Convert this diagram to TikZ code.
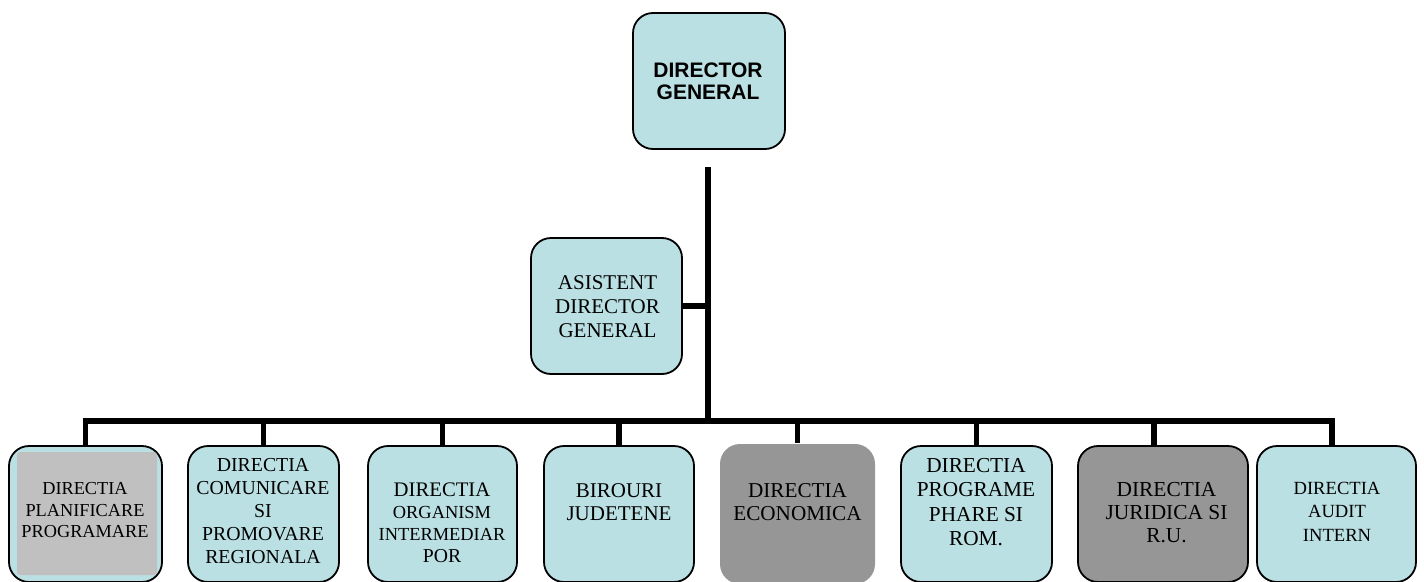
\documentclass[tikz,border=0pt]{standalone}
\usepackage{fontspec}
\setmainfont{Liberation Serif}
\newfontfamily\arialfont{Liberation Sans}
\definecolor{boxblue}{RGB}{187,224,227}
\definecolor{darkbox}{RGB}{150,150,150}
\definecolor{innergray}{RGB}{192,192,192}
\newcommand{\fs}[2]{\fontsize{#1}{#2}\selectfont}
\begin{document}
\begin{tikzpicture}[x=1pt,y=-1pt,
  orgbox/.style={draw=black, line width=1.8pt, fill=boxblue, rounded corners=20pt, inner sep=0pt},
  conn/.style={line width=5.5pt, line join=miter},
  lbl/.style={inner sep=0pt, align=center, anchor=north, text=black}]
\useasboundingbox (0,0) rectangle (1424,581);
% boxes
\node[orgbox, minimum width=152pt, minimum height=136pt] (dg) at (709,81) {};
\node[orgbox, minimum width=151pt, minimum height=136pt] (as) at (606.5,306) {};
\node[orgbox, minimum width=153pt, minimum height=136pt] (b1) at (85.5,514) {};
\node[fill=innergray, inner sep=0pt, rounded corners=3pt, minimum width=140pt, minimum height=123pt] (b1in) at (87,513.5) {};
\node[orgbox, minimum width=151pt, minimum height=136pt] (b2) at (263.5,514) {};
\node[orgbox, minimum width=149pt, minimum height=136pt] (b3) at (442.5,514) {};
\node[orgbox, minimum width=150pt, minimum height=136pt] (b4) at (619,514) {};
\node[orgbox, draw=none, fill=darkbox, minimum width=155pt, minimum height=140pt] (b5) at (797.5,514) {};
\node[orgbox, minimum width=151pt, minimum height=136pt] (b6) at (976.5,514) {};
\node[orgbox, fill=darkbox, minimum width=170pt, minimum height=136pt] (b7) at (1163,514) {};
\node[orgbox, minimum width=159pt, minimum height=136pt] (b8) at (1336.5,514) {};
% connectors
\coordinate (top) at (708,167);
\coordinate (busM) at (708,421);
\coordinate (jA) at (708,306);
\draw[conn] (top) -- (busM);
\draw[conn] (as.east) -- (jA);
\draw[conn] (b1.north) -- (b1.north |- busM) -- ([xshift=-4.5pt]b8.north |- busM) -- ([xshift=-4.5pt]b8.north);
\draw[conn] (b2.north) -- (b2.north |- busM);
\draw[conn] (b3.north) -- (b3.north |- busM);
\draw[conn] (b4.north) -- (b4.north |- busM);
\draw[conn] (b5.north) -- (b5.north |- busM);
\draw[conn] (b6.north) -- (b6.north |- busM);
\draw[conn] ([xshift=-9pt]b7.north) -- ([xshift=-9pt]b7.north |- busM);
% labels
\node[lbl, font=\arialfont\bfseries\fs{21}{21.7}] (tdg) at (708,63) {DIRECTOR\\GENERAL};
\node[lbl, font=\fs{21}{24}] (tas) at (607.5,275) {ASISTENT\\DIRECTOR\\GENERAL};
\node[lbl, font=\fs{18.3}{21.7}] (t1) at (85,482) {DIRECTIA\\PLANIFICARE\\PROGRAMARE};
\node[lbl, font=\fs{19.8}{23}] (t2) at (263,458) {DIRECTIA\\COMUNICARE\\SI\\PROMOVARE\\REGIONALA};
\node[lbl, font=\fs{18.4}{21.7}] (t3) at (442,483) {{\fs{20.7}{21.7}DIRECTIA}\\ORGANISM\\INTERMEDIAR\\{\fs{19.7}{23.3}POR}};
\node[lbl, font=\fs{21}{23.3}] (t4) at (619,483) {BIROURI\\JUDETENE};
\node[lbl, font=\fs{21.2}{23.3}] (t5) at (797.5,483) {DIRECTIA\\ECONOMICA};
\node[lbl, font=\fs{21.3}{24.4}] (t6) at (976,458) {DIRECTIA\\PROGRAME\\PHARE SI\\ROM.};
\node[lbl, font=\fs{21.4}{23.3}] (t7) at (1166.5,482) {DIRECTIA\\JURIDICA SI\\R.U.};
\node[lbl, font=\fs{18.6}{23.3}] (t8) at (1337,482) {DIRECTIA\\AUDIT\\INTERN};
\end{tikzpicture}
\end{document}
